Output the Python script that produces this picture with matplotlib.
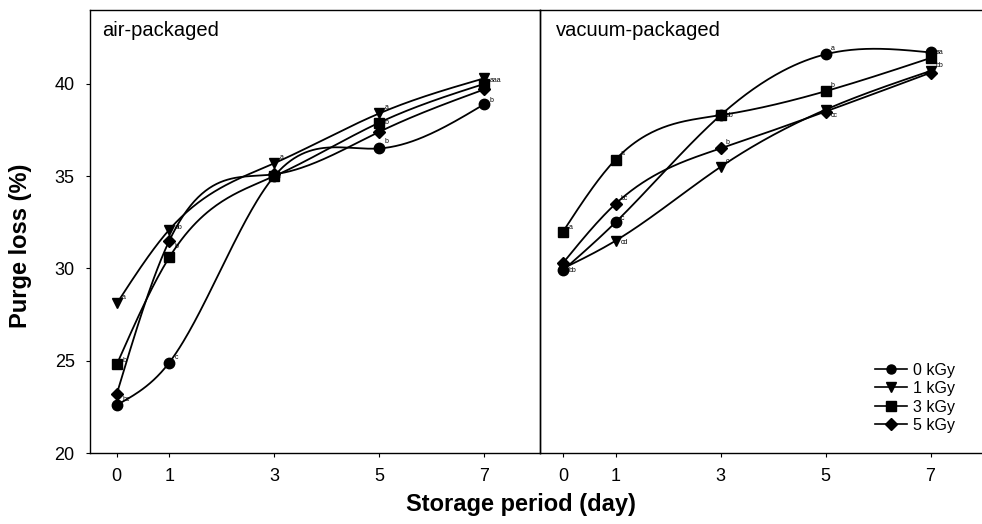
import numpy as np
import matplotlib
matplotlib.use("Agg")
import matplotlib.pyplot as plt

plt.rcParams["font.family"] = ["Liberation Sans", "DejaVu Sans"]

days = [0, 1, 3, 5, 7]
doses = ["0 kGy", "1 kGy", "3 kGy", "5 kGy"]
markers = ["o", "v", "s", "D"]

# purge loss (%)
air_0 = [22.6, 24.9, 35.0, 36.5, 38.9]
air_1 = [28.1, 32.1, 35.7, 38.4, 40.3]
air_3 = [24.8, 30.6, 35.0, 37.9, 40.0]
air_5 = [23.2, 31.5, 35.1, 37.4, 39.7]

vac_0 = [29.9, 32.5, 38.3, 41.6, 41.7]
vac_1 = [30.0, 31.5, 35.5, 38.6, 40.7]
vac_3 = [32.0, 35.9, 38.3, 39.6, 41.4]
vac_5 = [30.3, 33.5, 36.5, 38.5, 40.6]

# significance letters: (day, value, text)
air_letters = [(0, 28.4, "a"), (0, 25.0, "b"), (0, 22.9, "bc"),
               (1, 32.2, "ab"), (1, 31.2, "b"), (1, 25.2, "c"),
               (3, 36.0, "a"), (5, 38.7, "a"), (5, 37.9, "b"), (5, 36.9, "b"),
               (7, 40.2, "aaa"), (7, 39.1, "b")]
vac_letters = [(0, 32.2, "a"), (0, 29.9, "bb"),
               (1, 36.2, "a"), (1, 33.8, "bc"), (1, 32.7, "c"), (1, 31.4, "cd"),
               (3, 38.3, "ab"), (3, 36.8, "b"), (3, 35.8, "c"),
               (5, 41.9, "a"), (5, 39.9, "b"), (5, 38.3, "cc"),
               (7, 41.7, "aa"), (7, 41.0, "bb")]


def spline(x, y, n=200):
    # natural cubic spline through the points, for drawing smooth curves
    x = np.asarray(x, float)
    y = np.asarray(y, float)
    h = np.diff(x)
    m = len(x)
    A = np.zeros((m, m))
    r = np.zeros(m)
    A[0, 0] = A[-1, -1] = 1
    for i in range(1, m - 1):
        A[i, i - 1] = h[i - 1]
        A[i, i] = 2 * (h[i - 1] + h[i])
        A[i, i + 1] = h[i]
        r[i] = 6 * ((y[i + 1] - y[i]) / h[i] - (y[i] - y[i - 1]) / h[i - 1])
    M = np.linalg.solve(A, r)
    xs = np.linspace(x[0], x[-1], n)
    k = np.clip(np.searchsorted(x, xs) - 1, 0, m - 2)
    t0 = x[k + 1] - xs
    t1 = xs - x[k]
    hk = h[k]
    ys = (M[k] * t0 ** 3 + M[k + 1] * t1 ** 3) / (6 * hk) \
        + (y[k] / hk - M[k] * hk / 6) * t0 + (y[k + 1] / hk - M[k + 1] * hk / 6) * t1
    return xs, ys


fig = plt.figure(figsize=(9.82, 5.24), dpi=100)
W, H = 982, 524
ax1 = fig.add_axes([90 / W, 1 - 453 / H, 450 / W, 443 / H])
ax2 = fig.add_axes([540 / W, 1 - 453 / H, 442 / W, 443 / H])
ax2.patch.set_visible(False)

panels = [(ax1, [air_0, air_1, air_3, air_5], air_letters, "air-packaged", (-0.51, 8.06), 0.027),
          (ax2, [vac_0, vac_1, vac_3, vac_5], vac_letters, "vacuum-packaged", (-0.44, 7.98), 0.035)]

for ax, series, letters, title, xl, tx in panels:
    for vals, mk, lab in zip(series, markers, doses):
        xs, ys = spline(days, vals)
        ax.plot(xs, ys, color="black", lw=1.3)
        ax.plot(days, vals, ls="none", marker=mk, ms=7.5 if mk != "D" else 6.5,
                color="black")
        ax.plot([], [], color="black", lw=1.2, marker=mk, ms=6.5 if mk != "D" else 6,
                label=lab)
    for d, v, t in letters:
        ax.text(d + 0.1, v, t, fontsize=5, ha="left", va="center")
    ax.set_xlim(*xl)
    ax.set_ylim(20, 44)
    ax.set_xticks(days)
    ax.text(tx, 0.975, title, transform=ax.transAxes, fontsize=14.5,
            ha="left", va="top")
    ax.tick_params(direction="out", length=3, width=0.8, labelsize=13, pad=8)
    for s in ax.spines.values():
        s.set_linewidth(1.0)

ax1.set_yticks([20, 25, 30, 35, 40])
ax2.set_yticks([])
ax2.spines["right"].set_visible(False)

ax2.legend(loc="lower right", bbox_to_anchor=(0.94, 0.045), frameon=False,
           fontsize=11.5, handlelength=2.0, labelspacing=0.22, handletextpad=0.4,
           borderpad=0, borderaxespad=0)

fig.text(21 / W, 1 - 246 / H, "Purge loss (%)", fontsize=17, fontweight="bold",
         rotation=90, ha="center", va="center")
fig.text(521 / W, 1 - 505 / H, "Storage period (day)", fontsize=17,
         fontweight="bold", ha="center", va="center")

fig.savefig("out.png", dpi=100)
